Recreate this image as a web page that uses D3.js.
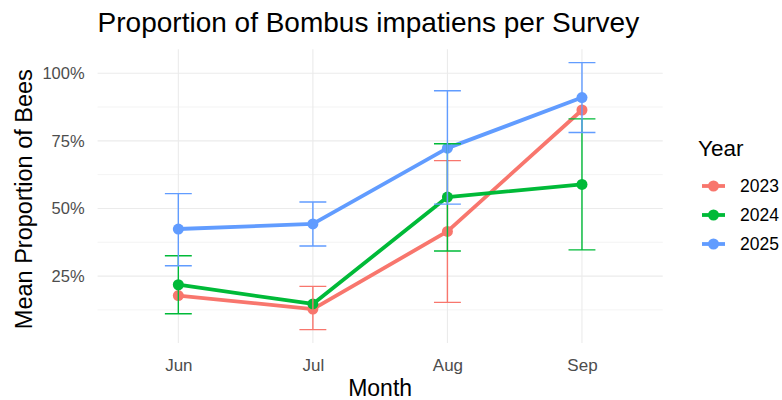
<!DOCTYPE html>
<html>
<head>
<meta charset="utf-8">
<script src="https://d3js.org/d3.v7.min.js"></script>
<style>
  body { margin: 0; background: #fff; }
  text { font-family: "Liberation Sans", Arial, sans-serif; }
</style>
</head>
<body>
<svg id="chart" width="782" height="400"></svg>
<script>
// data
var months = ["Jun", "Jul", "Aug", "Sep"];
var years = ["2023", "2024", "2025"];
var yearColors = ["#F8766D", "#00BA38", "#619CFF"];

var mean2023 = [0.178, 0.128, 0.415, 0.864];
var mean2024 = [0.218, 0.147, 0.542, 0.589];
var mean2025 = [0.424, 0.443, 0.723, 0.910];

var low2023 = [null, 0.052, 0.153, null];
var high2023 = [null, 0.212, 0.677, null];
var low2024 = [0.111, null, 0.343, 0.347];
var high2024 = [0.325, null, 0.739, 0.831];
var low2025 = [0.288, 0.361, 0.516, 0.781];
var high2025 = [0.555, 0.524, 0.935, 1.039];

var yTicks = [0.25, 0.5, 0.75, 1.0];
var yMinor = [0.125, 0.375, 0.625, 0.875];

var series = [
	{ year: years[0], color: yearColors[0], mean: mean2023, low: low2023, high: high2023 },
	{ year: years[1], color: yearColors[1], mean: mean2024, low: low2024, high: high2024 },
	{ year: years[2], color: yearColors[2], mean: mean2025, low: low2025, high: high2025 }
];

var panelLeft = 97.6, panelRight = 662.7, panelTop = 49.3, panelBottom = 343;

var svg = d3.select("#chart");

// discrete x scale with ggplot style 0.6 expansion
var x = d3.scalePoint()
	.domain(months)
	.range([panelLeft, panelRight])
	.padding(0.6);
var step = x.step();

var allVals = [];
series.forEach(function (s) {
	s.mean.forEach(function (v) { allVals.push(v); });
	s.low.forEach(function (v) { if (v != null) allVals.push(v); });
	s.high.forEach(function (v) { if (v != null) allVals.push(v); });
});
var yMin = d3.min(allVals), yMax = d3.max(allVals);
var pad = (yMax - yMin) * 0.05;
var y = d3.scaleLinear()
	.domain([yMin - pad, yMax + pad])
	.range([panelBottom, panelTop]);

// grid
var grid = svg.append("g");
grid.selectAll("line.minor").data(yMinor).enter().append("line")
	.attr("x1", panelLeft).attr("x2", panelRight)
	.attr("y1", function (d) { return y(d); }).attr("y2", function (d) { return y(d); })
	.attr("stroke", "#EBEBEB").attr("stroke-width", 0.6);
grid.selectAll("line.major").data(yTicks).enter().append("line")
	.attr("x1", panelLeft).attr("x2", panelRight)
	.attr("y1", function (d) { return y(d); }).attr("y2", function (d) { return y(d); })
	.attr("stroke", "#EBEBEB").attr("stroke-width", 1.1);
grid.selectAll("line.vert").data(months).enter().append("line")
	.attr("x1", function (d) { return x(d); }).attr("x2", function (d) { return x(d); })
	.attr("y1", panelTop).attr("y2", panelBottom)
	.attr("stroke", "#EBEBEB").attr("stroke-width", 1.1);

// axes (text only, theme_minimal)
var yAxis = svg.append("g")
	.attr("transform", "translate(" + (panelLeft - 13) + ",0)")
	.call(d3.axisLeft(y).tickValues(yTicks).tickSize(0).tickPadding(0).tickFormat(d3.format(".0%")));
yAxis.select(".domain").remove();
yAxis.selectAll("text")
	.attr("fill", "#4D4D4D").attr("font-size", 16.5)
	.attr("font-family", "Liberation Sans, Arial, sans-serif");

var xAxis = svg.append("g")
	.attr("transform", "translate(0," + (panelBottom + 12) + ")")
	.call(d3.axisBottom(x).tickSize(0).tickPadding(4));
xAxis.select(".domain").remove();
xAxis.selectAll("text")
	.attr("fill", "#4D4D4D").attr("font-size", 17)
	.attr("font-family", "Liberation Sans, Arial, sans-serif");

// lines
var line = d3.line()
	.x(function (d, i) { return x(months[i]); })
	.y(function (d) { return y(d); });

svg.append("g").selectAll("path").data(series).enter().append("path")
	.attr("d", function (s) { return line(s.mean); })
	.attr("fill", "none")
	.attr("stroke", function (s) { return s.color; })
	.attr("stroke-width", 3.8)
	.attr("stroke-linejoin", "round");

// points
series.forEach(function (s) {
	svg.append("g").selectAll("circle").data(s.mean).enter().append("circle")
		.attr("cx", function (d, i) { return x(months[i]); })
		.attr("cy", function (d) { return y(d); })
		.attr("r", 5.5)
		.attr("fill", s.color);
});

// error bars
var capHalf = step * 0.1;
series.forEach(function (s) {
	var bars = months.map(function (m, i) {
		return { month: m, low: s.low[i], high: s.high[i] };
	}).filter(function (d) { return d.low != null; });
	var g = svg.append("g").attr("stroke", s.color).attr("stroke-width", 1.4).attr("fill", "none");
	g.selectAll("path").data(bars).enter().append("path")
		.attr("d", function (d) {
			var cx = x(d.month), y1 = y(d.high), y0 = y(d.low);
			return "M" + (cx - capHalf) + "," + y1 + "H" + (cx + capHalf) +
				"M" + cx + "," + y1 + "V" + y0 +
				"M" + (cx - capHalf) + "," + y0 + "H" + (cx + capHalf);
		});
});

// titles
svg.append("text")
	.attr("x", panelLeft).attr("y", 32)
	.attr("font-size", 28).attr("fill", "#000")
	.text("Proportion of Bombus impatiens per Survey");

svg.append("text")
	.attr("x", (panelLeft + panelRight) / 2).attr("y", 396)
	.attr("text-anchor", "middle").attr("font-size", 23).attr("fill", "#000")
	.text("Month");

svg.append("text")
	.attr("transform", "translate(32," + ((panelTop + panelBottom) / 2 + 3) + ") rotate(-90)")
	.attr("text-anchor", "middle").attr("font-size", 23.5).attr("fill", "#000")
	.text("Mean Proportion of Bees");

// legend
var legend = svg.append("g");
legend.append("text")
	.attr("x", 698).attr("y", 156)
	.attr("font-size", 22.5).attr("fill", "#000")
	.text("Year");

var keys = legend.selectAll("g.key").data(series).enter().append("g")
	.attr("transform", function (s, i) { return "translate(0," + (186 + i * 29) + ")"; });
keys.append("line")
	.attr("x1", 702).attr("x2", 725).attr("y1", 0).attr("y2", 0)
	.attr("stroke", function (s) { return s.color; }).attr("stroke-width", 3.8);
keys.append("circle")
	.attr("cx", 713.5).attr("cy", 0).attr("r", 5.5)
	.attr("fill", function (s) { return s.color; });
keys.append("text")
	.attr("x", 740).attr("y", 0).attr("dy", "0.35em")
	.attr("font-size", 17.5).attr("fill", "#000")
	.text(function (s) { return s.year; });
</script>
</body>
</html>
